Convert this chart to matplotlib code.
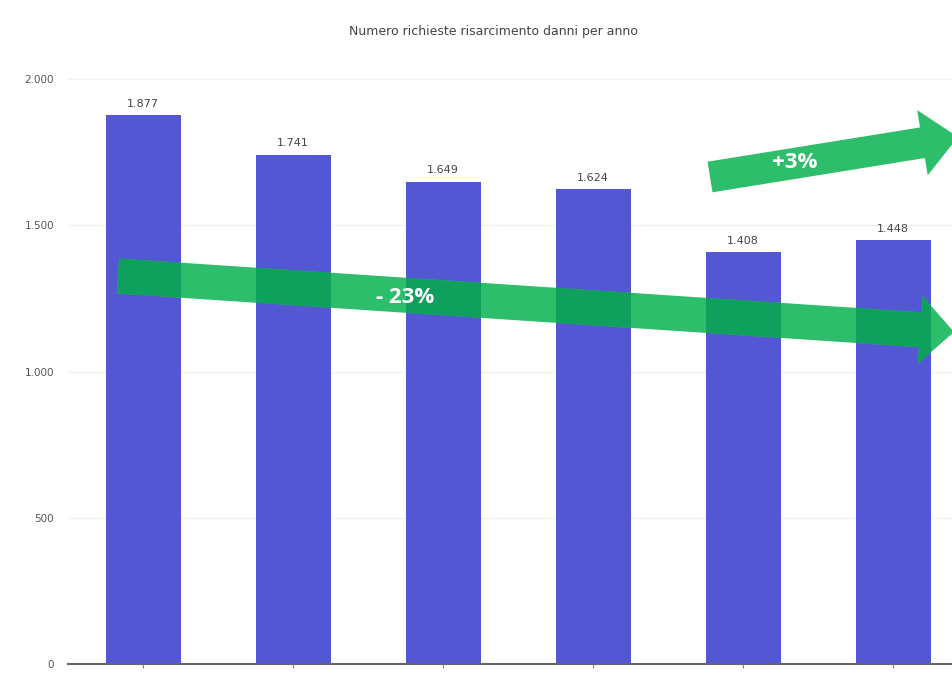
import numpy as np
import matplotlib
matplotlib.use("Agg")
import matplotlib.pyplot as plt
from matplotlib.patches import Polygon
from matplotlib.ticker import FuncFormatter

title = "Numero richieste risarcimento danni per anno"
values = [1877, 1741, 1649, 1624, 1408, 1448]
value_labels = ["1.877", "1.741", "1.649", "1.624", "1.408", "1.448"]
trend_labels = ["- 23%", "+3%"]

W, H = 952, 676
BAR = "#5457d4"
GREEN = "#2dbd6b"
GREEN_DARK = "#10a05e"


def px(x, y):
    # pixel position (origin top-left) -> figure fraction
    return x / W, 1 - y / H


def arrow_poly(start, end, shaft, head_w, head_l):
    s = np.array(start, float)
    e = np.array(end, float)
    d = e - s
    length = np.hypot(*d)
    u = d / length
    n = np.array([-u[1], u[0]])
    b = e - u * head_l
    pts = [s + n * shaft / 2, b + n * shaft / 2, b + n * head_w / 2, e,
           b - n * head_w / 2, b - n * shaft / 2, s - n * shaft / 2]
    return [px(*p) for p in pts]


fig = plt.figure(figsize=(W / 100, H / 100), dpi=100)
ax = fig.add_axes([68 / W, 12 / H, 1050 / W, 585 / H])

x = np.arange(len(values))
bars = ax.bar(x, values, width=0.5, color=BAR, zorder=2)
for xi, v, lab in zip(x, values, value_labels):
    ax.text(xi, v + 22, lab, ha="center", va="bottom", fontsize=8, color="#444444")

ax.set_xlim(-0.5, 6.5)
ax.set_ylim(0, 2000)
ax.set_yticks([0, 500, 1000, 1500, 2000])
ax.yaxis.set_major_formatter(FuncFormatter(lambda v, p: f"{int(v):,}".replace(",", ".")))
ax.tick_params(axis="y", length=0, labelsize=7.5, labelcolor="#555555", pad=10)
ax.set_xticks(x)
ax.set_xticklabels([])
ax.tick_params(axis="x", length=3, color="#888888")
ax.grid(axis="y", color="#f2f2ee", linewidth=1, zorder=0)
for side in ["top", "right", "left"]:
    ax.spines[side].set_visible(False)
ax.spines["bottom"].set_color("#666666")
ax.spines["bottom"].set_linewidth(1.5)

fig.text(493 / W, 1 - 31 / H, title, ha="center", va="center", fontsize=9, color="#444444")

# trend arrows, drawn darker where they cross the bars
arrows = [
    arrow_poly((118, 276), (954, 332), 35, 68, 34),
    arrow_poly((710, 177), (958, 137), 31, 66, 36),
]
for poly in arrows:
    fig.patches.append(Polygon(poly, closed=True, transform=fig.transFigure,
                               facecolor=GREEN, edgecolor="none", zorder=5))
    for bar in bars:
        p = Polygon(poly, closed=True, transform=fig.transFigure,
                    facecolor=GREEN_DARK, edgecolor="none", zorder=6)
        p.set_clip_path(bar)
        fig.patches.append(p)

fig.text(*px(405, 297), trend_labels[0], ha="center", va="center", fontsize=16,
         fontweight="bold", color="white", family="Open Sans", zorder=7)
fig.text(*px(795, 163), trend_labels[1], ha="center", va="center", fontsize=16,
         fontweight="bold", color="white", family="Open Sans", zorder=7)

fig.savefig("out.png", dpi=100)
